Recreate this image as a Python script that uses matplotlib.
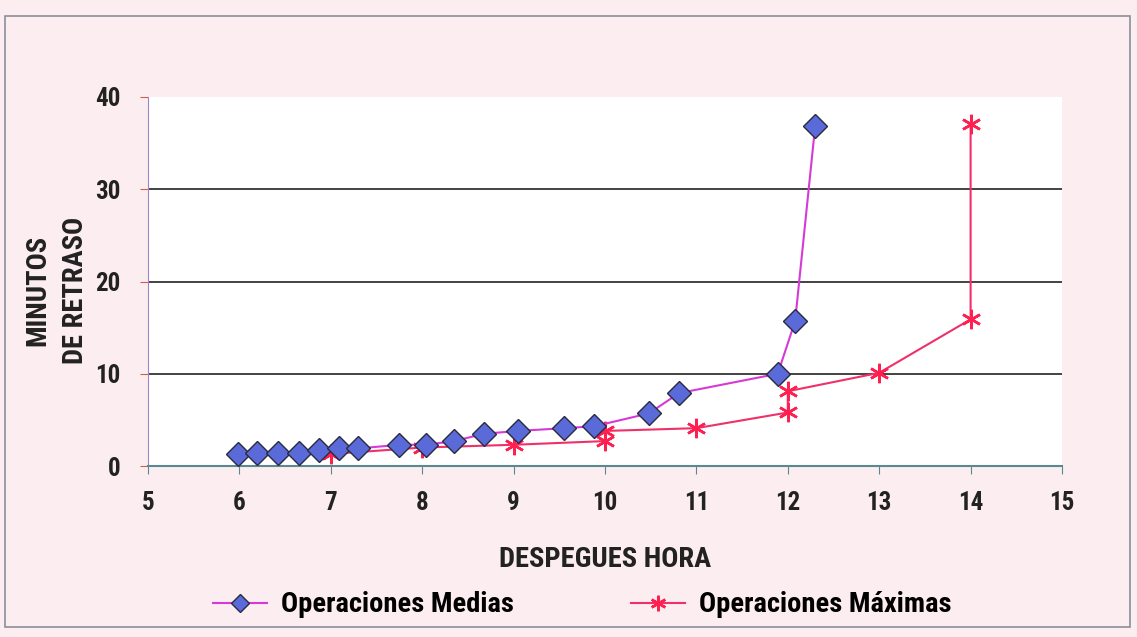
import matplotlib
matplotlib.use("Agg")
import matplotlib.pyplot as plt
from matplotlib.patches import Rectangle

# Operaciones Medias
medias_x = [5.98, 6.19, 6.42, 6.65, 6.87, 7.09, 7.30, 7.75, 8.04, 8.35, 8.68, 9.05, 9.55, 9.88,
            10.48, 10.81, 11.89, 12.08, 12.30]
medias_y = [1.3, 1.4, 1.4, 1.4, 1.7, 1.9, 1.9, 2.3, 2.3, 2.7, 3.5, 3.8, 4.1, 4.3,
            5.7, 7.9, 10.0, 15.7, 36.9]

# Operaciones Maximas
maximas_x = [7, 8, 9, 10, 10, 11, 12, 12, 13, 14, 14]
maximas_y = [1.3, 2.0, 2.3, 2.7, 3.8, 4.1, 5.8, 8.1, 10.1, 15.9, 37.1]

x_ticks = [5, 6, 7, 8, 9, 10, 11, 12, 13, 14, 15]
y_ticks = [0, 10, 20, 30, 40]

plt.rcParams['font.family'] = ['Roboto Condensed', 'DejaVu Sans']
plt.rcParams['font.stretch'] = 'condensed'

bg = "#fcedf1"
fig = plt.figure(figsize=(11.37, 6.37), dpi=100, facecolor=bg)
fig.patches.append(Rectangle((5 / 1137, 1 - 627 / 637), 1125 / 1137, 611 / 637,
                             transform=fig.transFigure, fill=False,
                             edgecolor="#8a8f9a", linewidth=1.2))

ax = fig.add_axes([148 / 1137, 1 - 466 / 637, 914 / 1137, 369 / 637])
ax.set_facecolor("white")

ax.plot(medias_x, medias_y, color="#d63ad6", lw=1.5, marker="D", markersize=12,
        markerfacecolor="#5a6ad8", markeredgecolor="#2a2a40", markeredgewidth=1.0,
        label="Operaciones Medias", zorder=3)
ax.plot(maximas_x, maximas_y, color="#f0306a", lw=1.5, marker=(6, 2, 0), markersize=14,
        markeredgecolor="#ff2050", markeredgewidth=1.8,
        label="Operaciones Máximas", zorder=2)

ax.set_xlim(5, 15)
ax.set_ylim(0, 40)
ax.set_xticks(x_ticks)
ax.set_yticks(y_ticks)
for y in y_ticks[1:-1]:
    ax.axhline(y, color="#222222", lw=1.2, zorder=1)

for s in ["top", "right"]:
    ax.spines[s].set_visible(False)
ax.spines["left"].set_color("#9a86c8")
ax.spines["bottom"].set_color("#5a8a90")
ax.spines["bottom"].set_linewidth(1.5)
ax.tick_params(axis="x", direction="out", length=6, colors="#5a8a90", labelcolor="#222222",
               labelsize=18, pad=12)
ax.tick_params(axis="y", direction="out", length=6, colors="#d0604a", labelcolor="#222222",
               labelsize=18, pad=14)
for lab in ax.get_xticklabels() + ax.get_yticklabels():
    lab.set_fontweight("bold")

ax.set_xlabel("DESPEGUES HORA", fontsize=20.5, fontweight="bold", color="#222222", labelpad=22)
fig.text(57 / 1137, 1 - 290 / 637, "MINUTOS\nDE RETRASO", rotation=90, ha="center", va="center",
         fontsize=20.5, fontweight="bold", color="#222222", linespacing=1.5)

fig.legend(loc="center", bbox_to_anchor=(582 / 1137, 1 - 605 / 637), ncol=2, frameon=False,
           prop={"weight": "bold", "size": 20.5}, columnspacing=4.1, handlelength=1.9,
           handletextpad=0.5, markerscale=0.8)

plt.savefig("out.png", dpi=100, facecolor=bg)
